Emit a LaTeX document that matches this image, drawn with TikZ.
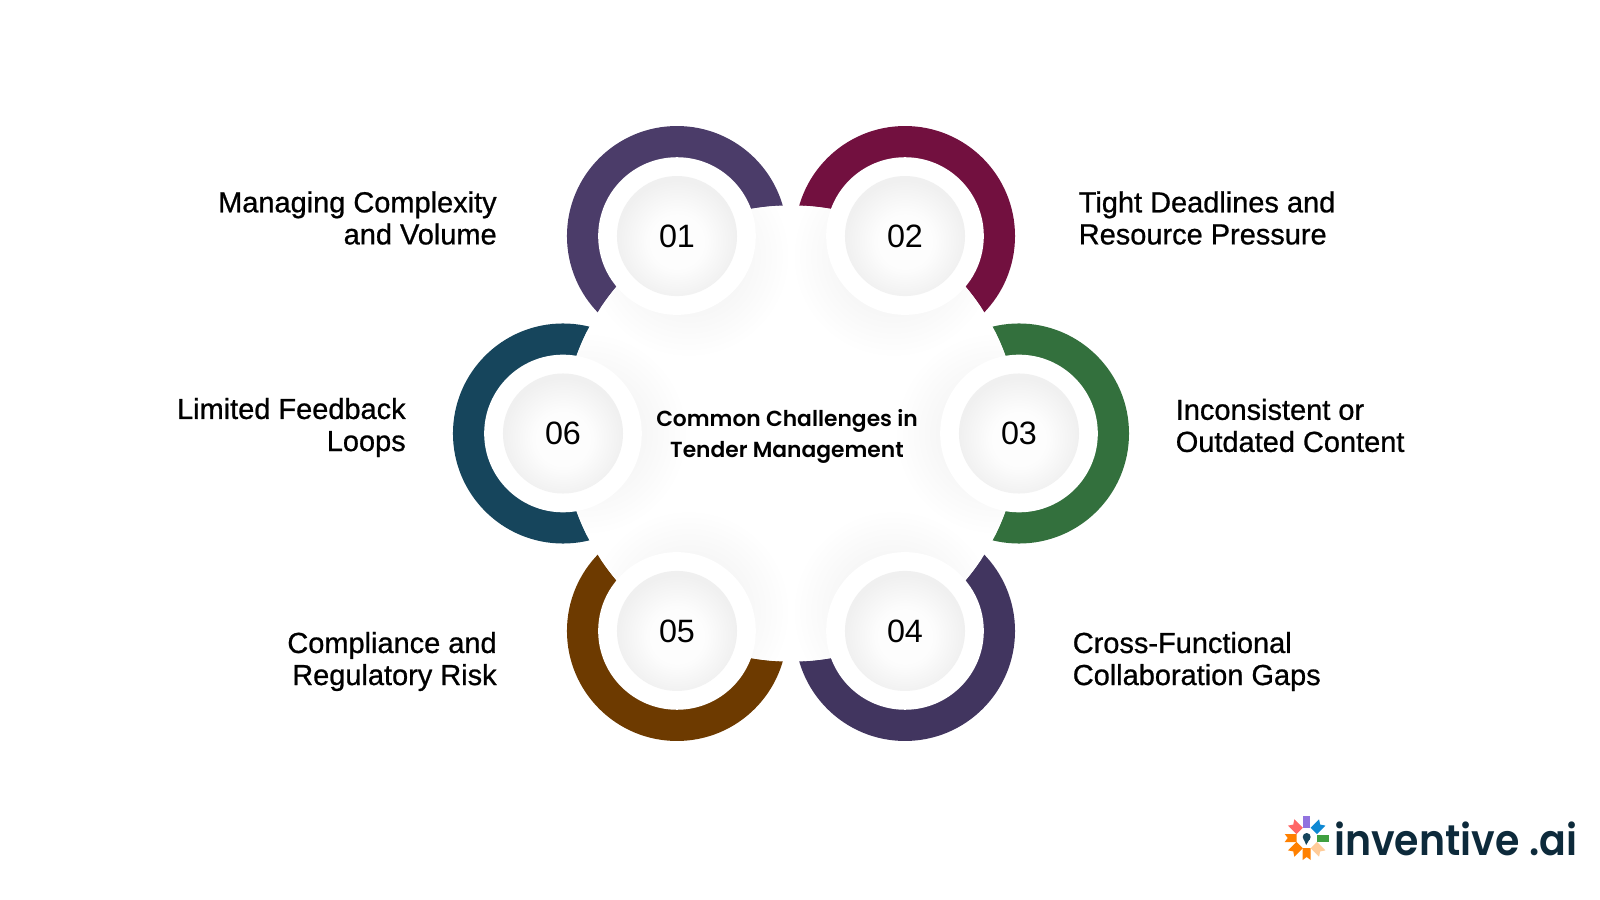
\documentclass[tikz,border=0pt]{standalone}
\usepackage{fontspec}
\setmainfont{Liberation Sans}
\newfontfamily\labelfont[FakeBold=0.8]{Liberation Sans}
\newfontfamily\titlefont[BoldFont={Poppins SemiBold}]{Poppins}
\newfontfamily\logofont{Poppins SemiBold}
\definecolor{ringone}{HTML}{4B3C69}
\definecolor{ringtwo}{HTML}{72103F}
\definecolor{ringthree}{HTML}{33703D}
\definecolor{ringfour}{HTML}{41355F}
\definecolor{ringfive}{HTML}{6D3A00}
\definecolor{ringsix}{HTML}{16455C}
\definecolor{logoink}{HTML}{0D2A3B}
\pgfdeclareradialshading{discshade}{\pgfpoint{0bp}{-3bp}}{rgb(0bp)=(0.995,0.995,0.995);rgb(12bp)=(0.99,0.99,0.99);rgb(25bp)=(0.94,0.94,0.94);rgb(50bp)=(0.94,0.94,0.94)}
\pgfdeclareradialshading{softglow}{\pgfpointorigin}{rgb(0bp)=(0.96,0.96,0.96);rgb(13bp)=(0.965,0.965,0.965);rgb(25bp)=(1,1,1);rgb(50bp)=(1,1,1)}
\tikzset{
  ring/.style={circle,inner sep=0pt,minimum size=5.5cm},
  hole/.style={circle,fill=white,inner sep=0pt,minimum size=3.94cm},
  disc/.style={circle,shading=discshade,inner sep=0pt,minimum size=3cm,font=\fontsize{23}{27}\selectfont},
  glow/.style={circle,shading=softglow,inner sep=0pt,minimum size=5.1cm},
  challenge/.style={font=\labelfont\fontsize{20.6}{22.8}\selectfont,inner sep=0pt},
}
\newcommand{\flatpiece}[2]{\fill[#1,rotate=#2] (-3.5,10) -- (3.5,10) -- (3.5,22) -- (-3.5,22) -- cycle;}
\newcommand{\notchpiece}[3]{\fill[#1,rotate=#2] (-#3,10) -- (#3,10) -- (#3,22) -- (0,19) -- (-#3,22) -- cycle;}
\begin{document}
\begin{tikzpicture}[x=0.025cm,y=0.025cm]
  \useasboundingbox (-791,-466.5) rectangle (809,433.5);
  % coloured rings, cut by the hub below
  \draw
    (120:228) node[ring,fill=ringone] (ring1){}
    (60:228) node[ring,fill=ringtwo] (ring2){}
    (0:228) node[ring,fill=ringthree] (ring3){}
    (-60:228) node[ring,fill=ringfour] (ring4){}
    (-120:228) node[ring,fill=ringfive] (ring5){}
    (180:228) node[ring,fill=ringsix] (ring6){};
  \node[circle,fill=white,inner sep=0pt,minimum size=11.4cm] (hub) at (0,0) {};
  % soft shadows towards the middle
  \begin{scope}
    \clip (0,0) circle (228);
    \node[glow] (glow1) at (120:205) {};
    \node[glow] (glow2) at (60:205) {};
    \node[glow] (glow3) at (0:205) {};
    \node[glow] (glow4) at (-60:205) {};
    \node[glow] (glow5) at (-120:205) {};
    \node[glow] (glow6) at (180:205) {};
  \end{scope}
  \draw
    (120:228) node[hole] (hole1){}
    (60:228) node[hole] (hole2){}
    (0:228) node[hole] (hole3){}
    (-60:228) node[hole] (hole4){}
    (-120:228) node[hole] (hole5){}
    (180:228) node[hole] (hole6){};
  \draw
    (120:228) node[disc] (disc1){01}
    (60:228) node[disc] (disc2){02}
    (0:228) node[disc] (disc3){03}
    (-60:228) node[disc] (disc4){04}
    (-120:228) node[disc] (disc5){05}
    (180:228) node[disc] (disc6){06};
  \node[align=center,inner sep=0pt,font=\titlefont\bfseries\fontsize{15.5}{22.4}\selectfont] (title) at (-4,-3) {Common Challenges in\\Tender Management};
  \node[challenge,align=right,anchor=east] (label1) at (-294,215.5) {Managing Complexity\\and Volume};
  \node[challenge,align=left,anchor=west] (label2) at (287.5,215.5) {Tight Deadlines and\\Resource Pressure};
  \node[challenge,align=left,anchor=west] (label3) at (384.5,8) {Inconsistent or\\Outdated Content};
  \node[challenge,align=left,anchor=west] (label4) at (281.5,-228) {Cross-Functional\\Collaboration Gaps};
  \node[challenge,align=right,anchor=east] (label5) at (-294,-228) {Compliance and\\Regulatory Risk};
  \node[challenge,align=right,anchor=east] (label6) at (-385,6) {Limited Feedback\\Loops};
  % logo
  \begin{scope}[shift={(515.7,-404.5)}]
    \flatpiece{violet!45!blue!55!white}{0}
    \notchpiece{red!60!white}{45}{4.5}
    \notchpiece{orange}{90}{4}
    \notchpiece{orange}{135}{4.5}
    \notchpiece{orange}{180}{4}
    \notchpiece{orange!40!white}{225}{4.5}
    \flatpiece{green!50!black!75!white}{270}
    \notchpiece{cyan!70!blue}{315}{4.5}
    \fill[ringsix] (0,1) circle (4);
    \fill[ringsix] (-3,-1) -- (3,-1) -- (-0.5,-7) -- cycle;
  \end{scope}
  \node[anchor=base west,inner sep=0pt,text=logoink,xscale=0.92,font=\logofont\fontsize{30.5}{30.5}\selectfont] (logo) at (543,-421.5) {inventive .ai};
\end{tikzpicture}
\end{document}
